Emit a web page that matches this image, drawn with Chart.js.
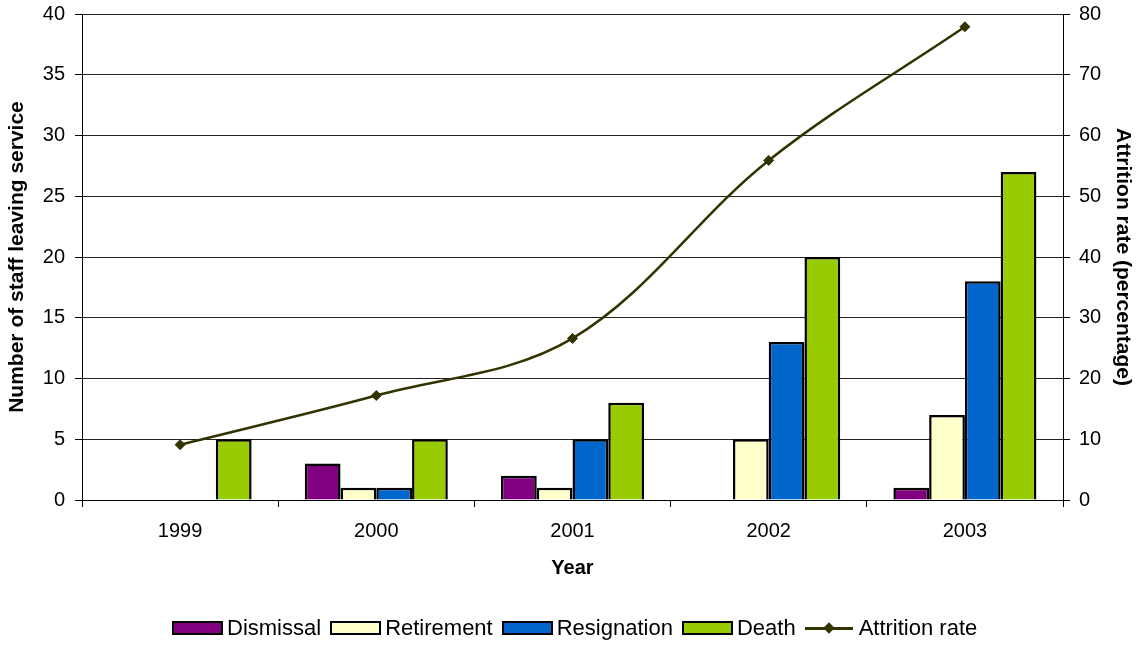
<!DOCTYPE html>
<html>
<head>
<meta charset="utf-8">
<script src="https://cdn.jsdelivr.net/npm/chart.js@4"></script>
<style>
    body { margin: 0; background: #fff; }
    #wrap { position: relative; width: 1136px; height: 646px; }
    #legend {
        position: absolute; left: 172px; top: 617px; height: 22px;
        display: flex; align-items: center;
        font-family: "Liberation Sans", Arial, sans-serif; font-size: 22px; color: #000;
    }
    .item { display: flex; align-items: center; margin-right: 9px; }
    .box { width: 47px; height: 10px; border: 2px solid #000; margin-right: 4px; }
    .lineSample { position: relative; width: 48px; height: 14px; margin-right: 6px; }
    .lineSample .bar { position: absolute; left: 0; right: 0; top: 6px; height: 3px; }
    .lineSample .dot { position: absolute; left: 20px; top: 3px; width: 8px; height: 8px; transform: rotate(45deg); }
</style>
</head>
<body>
<div id="wrap">
    <canvas id="chart" width="1136" height="646"></canvas>
    <div id="legend"></div>
</div>
<script>
const years = ["1999", "2000", "2001", "2002", "2003"];
const dismissal = [null, 3, 2, null, 1];
const retirement = [null, 1, 1, 5, 7];
const resignation = [null, 1, 5, 13, 18];
const death = [5, 5, 8, 20, 27];
const attritionRate = [9.1, 17.2, 26.6, 55.9, 77.9];

const barSeries = [
    { label: "Dismissal", data: dismissal, color: "#800080" },
    { label: "Retirement", data: retirement, color: "#FFFFCC" },
    { label: "Resignation", data: resignation, color: "#0066CC" },
    { label: "Death", data: death, color: "#99CC00" }
];
const lineColor = "#333300";
const fontFamily = "'Liberation Sans', Arial, sans-serif";

const datasets = [{
    type: "line",
    label: "Attrition rate",
    data: attritionRate,
    yAxisID: "y1",
    order: 0,
    borderColor: lineColor,
    backgroundColor: lineColor,
    borderWidth: 2.5,
    tension: 0.35,
    pointStyle: "rectRot",
    pointRadius: 5,
    pointBorderWidth: 1,
    fill: false
}];

barSeries.forEach(s => {
    datasets.push({
        type: "bar",
        label: s.label,
        data: s.data,
        yAxisID: "y",
        order: 1,
        backgroundColor: s.color,
        borderColor: "#000",
        borderWidth: 2.5,
        categoryPercentage: 0.729,
        barPercentage: 1
    });
});

Chart.defaults.font.family = fontFamily;
Chart.defaults.color = "#000";

// pin the plot area: 82..1063 wide, 14..500 tall
function fitVertical(width) {
    return scale => {
        scale.width = width;
        scale.paddingTop = 0;
        scale.paddingBottom = 0;
    };
}

new Chart(document.getElementById("chart"), {
    data: { labels: years, datasets: datasets },
    options: {
        responsive: false,
        animation: false,
        layout: { padding: { top: 14, left: 0, right: 0, bottom: 0 } },
        plugins: { legend: { display: false }, tooltip: { enabled: false } },
        scales: {
            x: {
                offset: true,
                grid: { offset: true, drawOnChartArea: false, tickLength: 7, color: "#000" },
                border: { color: "#000", width: 1 },
                ticks: { font: { size: 20 }, padding: 12, maxRotation: 0 },
                title: { display: true, text: "Year", font: { size: 20, weight: "bold" }, padding: { top: 0, bottom: 66 } },
                afterFit: scale => { scale.height = 146; scale.paddingLeft = 0; scale.paddingRight = 0; }
            },
            y: {
                position: "left",
                min: 0, max: 40,
                ticks: { stepSize: 5, font: { size: 20 }, padding: 10 },
                grid: { color: "#222", tickLength: 7, tickColor: "#000" },
                border: { color: "#000", width: 1 },
                title: { display: true, text: "Number of staff leaving service", font: { size: 21, weight: "bold" }, padding: { top: 5, bottom: 0 } },
                afterFit: fitVertical(82)
            },
            y1: {
                position: "right",
                min: 0, max: 80,
                ticks: { stepSize: 10, font: { size: 20 }, padding: 9 },
                grid: { drawOnChartArea: false, tickLength: 7, tickColor: "#000" },
                border: { color: "#000", width: 1 },
                title: { display: true, text: "Attrition rate (percentage)", font: { size: 21, weight: "bold" }, padding: { top: 1, bottom: 0 } },
                afterFit: fitVertical(73)
            }
        }
    }
});

// legend below the chart, built from the same series
const legend = document.getElementById("legend");
barSeries.forEach(s => {
    const item = document.createElement("div");
    item.className = "item";
    item.innerHTML = `<span class="box" style="background:${s.color}"></span><span>${s.label}</span>`;
    legend.appendChild(item);
});
const lineItem = document.createElement("div");
lineItem.className = "item";
lineItem.innerHTML = `<span class="lineSample"><span class="bar" style="background:${lineColor}"></span><span class="dot" style="background:${lineColor}"></span></span><span>Attrition rate</span>`;
legend.appendChild(lineItem);
</script>
</body>
</html>
